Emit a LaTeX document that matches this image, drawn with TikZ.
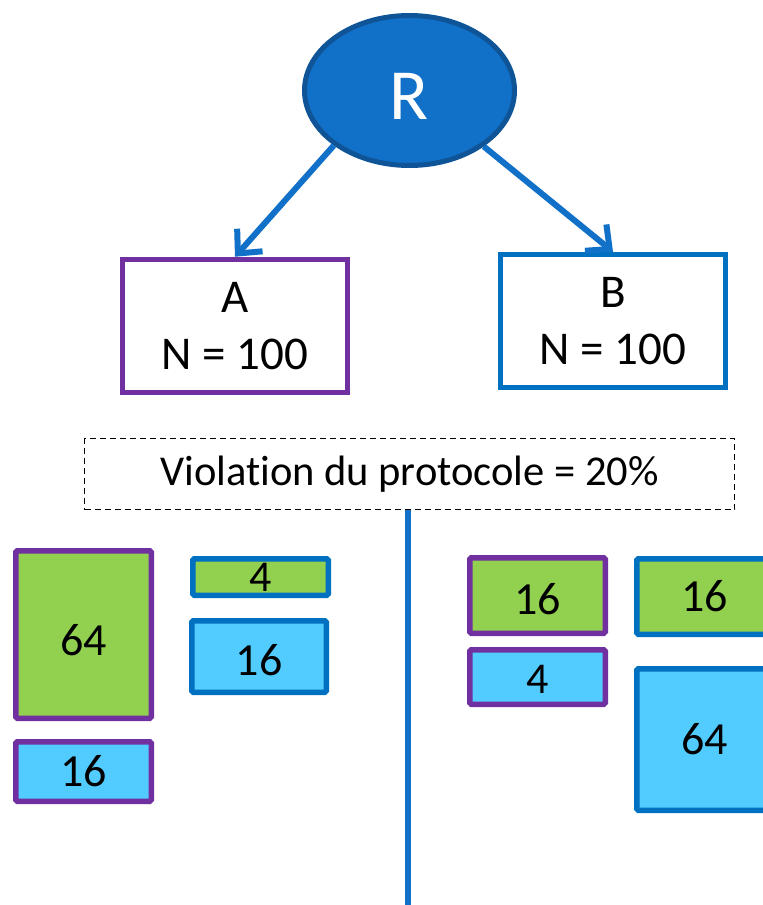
\documentclass[tikz,border=0pt]{standalone}
\usepackage{fontspec}
\setmainfont[Ligatures=NoCommon]{Carlito}
\usetikzlibrary{arrows.meta,shapes.geometric}
\definecolor{rblue}{HTML}{1170C8}
\definecolor{rborder}{HTML}{0F5496}
\definecolor{purp}{HTML}{7030A0}
\definecolor{bblue}{HTML}{0070C0}
\definecolor{grn}{HTML}{92D050}
\definecolor{lblue}{HTML}{52CCFF}
\newcommand{\lowr}[2]{\raisebox{-#1}[\height][0pt]{#2}}
\tikzset{
  grpbox/.style={draw, line width=5.5pt, fill=white, minimum width=#1, inner sep=0pt, align=center,
     font=\fontsize{47}{57}\selectfont},
  cell/.style args={#1/#2/#3/#4}{draw=#1, fill=#2, line width=5.5pt, rounded corners=1.5pt,
     minimum width=#3-5.5pt, minimum height=#4-5.5pt, inner sep=0pt, font=\fontsize{46}{50}\selectfont},
  arr/.style={rblue, line width=6pt, -{Straight Barb[length=18pt,width=34pt,line width=6pt]}},
}
\begin{document}
\begin{tikzpicture}[x=1pt,y=-1pt]
\clip (0,0) rectangle (763,905);
\useasboundingbox (0,0) rectangle (763,905);
\node[ellipse, draw=rborder, fill=rblue, line width=5pt, minimum width=210pt, minimum height=150pt,
      text=white, font=\fontsize{72}{80}\selectfont] (R) at (409.5,90.5) {\lowr{6pt}{R}};
\node[grpbox=225pt, draw=purp, minimum height=133pt] (A) at (235,326) {A\\N = 100};
\node[grpbox=225pt, draw=bblue, minimum height=133pt] (B) at (613,321) {B\\N = 100};
\draw[arr] (R.216) -- (A.north);
\draw[arr] (R.323) -- (B.north);
\node[draw, dashed, dash pattern=on 6pt off 4pt, line width=1.5pt, minimum width=650pt, minimum height=71pt,
      inner sep=0pt, font=\fontsize{42.5}{50}\selectfont] (V) at (409.5,474) {Violation du protocole = 20\%};
\coordinate (bot) at (408,910);
\draw[rblue, line width=6.5pt] (V.south -| bot) -- (bot);
% left side
\node[cell=purp/grn/141pt/173pt] (g64) at (83.5,634.5) {\lowr{5pt}{64}};
\node[cell=purp/lblue/141pt/65pt] (b16L) at (83.5,771.5) {16};
\node[cell=bblue/grn/141pt/42pt, font=\fontsize{44}{48}\selectfont] (g4) at (260.5,577) {4};
\node[cell=bblue/lblue/140pt/77pt] (b16) at (259,656.5) {\lowr{3pt}{16}};
% right side
\node[cell=purp/grn/141pt/81pt] (g16P) at (537.5,595.5) {\lowr{3pt}{16}};
\node[cell=purp/lblue/141pt/60pt, font=\fontsize{44}{48}\selectfont] (b4P) at (537.5,677) {\lowr{2pt}{4}};
\node[cell=bblue/grn/141pt/81pt] (g16B) at (704.5,596.5) {16};
\node[cell=bblue/lblue/141pt/147pt] (b64B) at (704.5,739.5) {64};
\end{tikzpicture}
\end{document}
